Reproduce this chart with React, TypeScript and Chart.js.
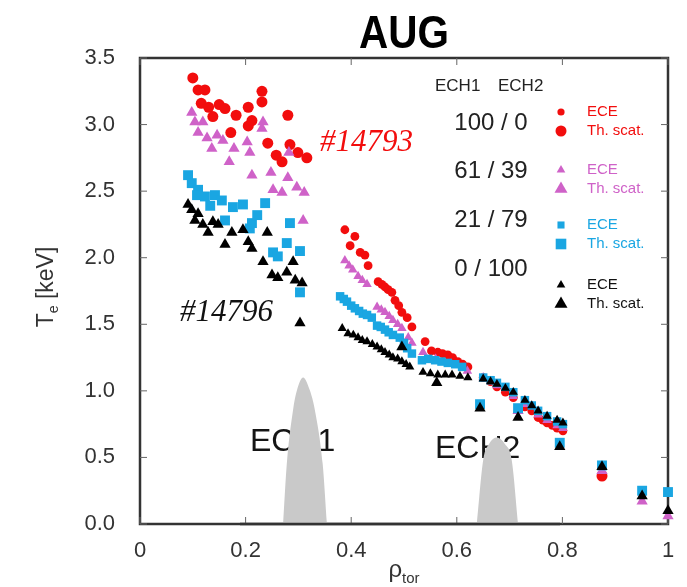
import React, { useEffect, useRef } from 'react';
import { Chart, registerables } from 'chart.js';

Chart.register(...registerables);

// ---- Electron temperature profiles, AUG (rho_tor vs Te in keV) ----
// 100/0 : ECH1/ECH2 power split (shot #14793)
const redThRho = [0.100, 0.110, 0.116, 0.123, 0.130, 0.138, 0.150, 0.161, 0.172, 0.182, 0.205, 0.205, 0.212, 0.231, 0.231, 0.242, 0.258, 0.269, 0.280, 0.284, 0.299, 0.316, 0.875];
const redThTe = [3.35, 3.26, 3.16, 3.26, 3.13, 3.06, 3.15, 3.12, 2.94, 3.07, 3.13, 2.99, 3.03, 3.25, 3.17, 2.86, 2.77, 2.72, 3.07, 2.85, 2.79, 2.75, 0.36];
const redEceRho = [0.388, 0.398, 0.407, 0.417, 0.426, 0.432, 0.451, 0.458, 0.464, 0.470, 0.477, 0.483, 0.490, 0.496, 0.506, 0.515, 0.540, 0.552, 0.564, 0.573, 0.583, 0.592, 0.602, 0.611, 0.621, 0.650, 0.664, 0.676, 0.692, 0.707, 0.729, 0.742, 0.754, 0.763, 0.771, 0.781, 0.790, 0.801];
const redEceTe = [2.21, 2.09, 2.16, 2.04, 2.02, 1.94, 1.82, 1.80, 1.78, 1.76, 1.74, 1.68, 1.64, 1.59, 1.55, 1.48, 1.37, 1.30, 1.29, 1.28, 1.27, 1.25, 1.22, 1.20, 1.18, 1.10, 1.07, 1.03, 0.99, 0.95, 0.88, 0.85, 0.80, 0.78, 0.76, 0.74, 0.72, 0.70];

// 61/39
const pinkThRho = [0.098, 0.104, 0.110, 0.119, 0.127, 0.136, 0.146, 0.157, 0.169, 0.178, 0.203, 0.208, 0.212, 0.231, 0.233, 0.248, 0.252, 0.269, 0.280, 0.282, 0.297, 0.309, 0.311, 0.716, 0.875, 0.951, 1.0];
const pinkThTe = [3.09, 3.02, 2.94, 3.02, 2.90, 2.82, 2.92, 2.88, 2.72, 2.82, 2.87, 2.79, 2.62, 2.97, 3.02, 2.64, 2.51, 2.49, 2.60, 2.79, 2.53, 2.28, 2.49, 0.85, 0.40, 0.17, 0.06];
const pinkEceRho = [0.388, 0.396, 0.403, 0.413, 0.421, 0.430, 0.449, 0.457, 0.464, 0.472, 0.479, 0.488, 0.496, 0.508, 0.515, 0.536, 0.560, 0.590, 0.620, 0.650, 0.676, 0.707, 0.729, 0.754, 0.771, 0.790, 0.801];
const pinkEceTe = [1.98, 1.94, 1.91, 1.86, 1.83, 1.80, 1.63, 1.61, 1.59, 1.56, 1.53, 1.50, 1.47, 1.40, 1.36, 1.29, 1.24, 1.20, 1.15, 1.10, 1.04, 0.96, 0.90, 0.82, 0.78, 0.74, 0.72];

// 21/79
const blueThRho = [0.091, 0.098, 0.110, 0.108, 0.123, 0.133, 0.142, 0.155, 0.161, 0.176, 0.195, 0.208, 0.212, 0.222, 0.237, 0.252, 0.261, 0.278, 0.284, 0.303, 0.303, 0.644, 0.716, 0.795, 0.875, 0.951, 1.0];
const blueThTe = [2.62, 2.56, 2.51, 2.47, 2.46, 2.39, 2.47, 2.43, 2.28, 2.38, 2.40, 2.22, 2.26, 2.32, 2.41, 2.04, 2.01, 2.11, 2.26, 2.05, 1.74, 0.90, 0.87, 0.61, 0.44, 0.25, 0.24];
const blueEceRho = [0.379, 0.386, 0.392, 0.400, 0.407, 0.415, 0.422, 0.430, 0.439, 0.449, 0.456, 0.464, 0.471, 0.479, 0.492, 0.500, 0.506, 0.515, 0.534, 0.546, 0.559, 0.571, 0.583, 0.597, 0.610, 0.650, 0.664, 0.676, 0.692, 0.707, 0.729, 0.742, 0.754, 0.771, 0.790, 0.801];
const blueEceTe = [1.71, 1.69, 1.67, 1.64, 1.62, 1.60, 1.58, 1.57, 1.55, 1.49, 1.48, 1.46, 1.44, 1.42, 1.40, 1.36, 1.32, 1.28, 1.23, 1.24, 1.23, 1.22, 1.21, 1.20, 1.18, 1.10, 1.08, 1.06, 1.03, 0.99, 0.93, 0.89, 0.85, 0.81, 0.77, 0.75];

// 0/100 (shot #14796)
const blackThRho = [0.091, 0.098, 0.104, 0.110, 0.119, 0.129, 0.138, 0.148, 0.161, 0.174, 0.195, 0.205, 0.212, 0.233, 0.241, 0.250, 0.261, 0.278, 0.290, 0.294, 0.303, 0.307, 0.496, 0.562, 0.644, 0.716, 0.795, 0.875, 0.951, 1.0];
const blackThTe = [2.40, 2.36, 2.28, 2.33, 2.25, 2.19, 2.27, 2.25, 2.10, 2.19, 2.21, 2.12, 2.07, 1.97, 2.19, 1.87, 1.85, 1.89, 1.97, 1.83, 1.51, 1.81, 1.33, 1.06, 0.87, 0.80, 0.58, 0.43, 0.21, 0.10];
const blackEceRho = [0.383, 0.394, 0.404, 0.413, 0.421, 0.430, 0.440, 0.449, 0.457, 0.464, 0.472, 0.479, 0.488, 0.496, 0.504, 0.511, 0.536, 0.550, 0.564, 0.578, 0.591, 0.606, 0.621, 0.650, 0.664, 0.676, 0.692, 0.707, 0.729, 0.742, 0.754, 0.771, 0.790, 0.801];
const blackEceTe = [1.47, 1.43, 1.42, 1.40, 1.38, 1.37, 1.35, 1.33, 1.31, 1.29, 1.27, 1.25, 1.24, 1.22, 1.20, 1.18, 1.14, 1.13, 1.12, 1.12, 1.12, 1.11, 1.10, 1.09, 1.07, 1.05, 1.02, 0.99, 0.93, 0.89, 0.85, 0.81, 0.78, 0.76];

// ECH deposition profiles (schematic, arbitrary height)
const ech1Rho = [0.271, 0.278, 0.290, 0.297, 0.309, 0.322, 0.331, 0.346, 0.354];
const ech1Level = [0, 0.45, 0.86, 1.0, 1.10, 1.0, 0.86, 0.45, 0];
const ech2Rho = [0.638, 0.650, 0.661, 0.676, 0.691, 0.704, 0.716];
const ech2Level = [0, 0.48, 0.60, 0.65, 0.60, 0.48, 0];

const rhoTicks = [0, 0.2, 0.4, 0.6, 0.8, 1];
const teTicks = [0, 0.5, 1.0, 1.5, 2.0, 2.5, 3.0, 3.5];

const powerSplits = ['100 / 0', '61 / 39', '21 / 79', '0 / 100'];

const RED = '#f20d0d';
const PINK = '#cf62c8';
const BLUE = '#1aa6e2';
const BLACK = '#000000';

const SANS = "'Liberation Sans', Arial, Helvetica, sans-serif";
const SERIF = "'Liberation Serif', 'Times New Roman', serif";

const pts = (xs: number[], ys: number[]) => xs.map((x, i) => ({ x, y: ys[i] }));

function marker(ctx: CanvasRenderingContext2D, style: string, x: number, y: number, r: number, color: string) {
  ctx.beginPath();
  ctx.fillStyle = color;
  if (style === 'circle') {
    ctx.arc(x, y, r, 0, Math.PI * 2);
  } else if (style === 'triangle') {
    ctx.moveTo(x, y - r);
    ctx.lineTo(x + r * 0.866, y + r / 2);
    ctx.lineTo(x - r * 0.866, y + r / 2);
    ctx.closePath();
  } else {
    const s = r * Math.SQRT1_2;
    ctx.rect(x - s, y - s, 2 * s, 2 * s);
  }
  ctx.fill();
}

const overlay = {
  id: 'overlay',
  beforeDatasetsDraw(chart: any) {
    const { ctx, chartArea: a, scales } = chart;
    ctx.save();
    // frame
    ctx.strokeStyle = '#333';
    ctx.lineWidth = 2.5;
    ctx.strokeRect(a.left, a.top, a.right - a.left, a.bottom - a.top);
    // inward ticks on all sides
    ctx.strokeStyle = '#666';
    ctx.lineWidth = 1;
    const tl = 7;
    rhoTicks.forEach((v) => {
      const px = scales.x.getPixelForValue(v);
      ctx.beginPath();
      ctx.moveTo(px, a.bottom); ctx.lineTo(px, a.bottom - tl);
      ctx.moveTo(px, a.top); ctx.lineTo(px, a.top + tl);
      ctx.stroke();
    });
    teTicks.forEach((v) => {
      const py = scales.y.getPixelForValue(v);
      ctx.beginPath();
      ctx.moveTo(a.left, py); ctx.lineTo(a.left + tl, py);
      ctx.moveTo(a.right, py); ctx.lineTo(a.right - tl, py);
      ctx.stroke();
    });
    // ECH labels sit underneath the deposition profiles
    ctx.fillStyle = '#151515';
    ctx.font = `32px ${SANS}`;
    ctx.textAlign = 'left';
    ctx.textBaseline = 'alphabetic';
    ctx.fillText('ECH1', 250, 451);
    ctx.fillText('ECH2', 435, 458);
    ctx.restore();
  },
  afterDraw(chart: any) {
    const { ctx, chartArea: a } = chart;
    ctx.save();
    // restore bottom axis line under the gray profiles
    ctx.strokeStyle = '#333';
    ctx.lineWidth = 2.5;
    ctx.beginPath();
    ctx.moveTo(a.left + 100, a.bottom);
    ctx.lineTo(a.left + 420, a.bottom);
    ctx.stroke();

    // title
    ctx.fillStyle = '#000';
    ctx.textAlign = 'center';
    ctx.textBaseline = 'alphabetic';
    ctx.save();
    ctx.translate((a.left + a.right) / 2, 48);
    ctx.scale(0.88, 1);
    ctx.font = `bold 46px ${SANS}`;
    ctx.fillText('AUG', 0, 0);
    ctx.restore();

    // y-axis title: T_e [keV]
    ctx.save();
    ctx.translate(53, 287);
    ctx.rotate(-Math.PI / 2);
    ctx.fillStyle = '#333';
    ctx.textAlign = 'left';
    ctx.font = `23px ${SANS}`;
    const wT = ctx.measureText('T').width;
    ctx.font = `14px ${SANS}`;
    const wE = ctx.measureText('e').width;
    ctx.font = `23px ${SANS}`;
    const wRest = ctx.measureText(' [keV]').width;
    const total = wT + wE + wRest;
    let cx = -total / 2;
    ctx.fillText('T', cx, 0);
    cx += wT;
    ctx.font = `14px ${SANS}`;
    ctx.fillText('e', cx, 5);
    cx += wE;
    ctx.font = `23px ${SANS}`;
    ctx.fillText(' [keV]', cx, 0);
    ctx.restore();

    // x-axis title: rho_tor
    ctx.save();
    ctx.fillStyle = '#333';
    ctx.textAlign = 'left';
    ctx.font = `24px ${SANS}`;
    const wRho = ctx.measureText('\u03c1').width;
    ctx.font = `15px ${SANS}`;
    const wTor = ctx.measureText('tor').width;
    const rx = (a.left + a.right) / 2 - (wRho + wTor) / 2;
    ctx.font = `24px ${SANS}`;
    ctx.fillText('\u03c1', rx, 577);
    ctx.font = `15px ${SANS}`;
    ctx.fillText('tor', rx + wRho, 583);
    ctx.restore();

    // shot numbers
    ctx.font = `italic 31px ${SERIF}`;
    ctx.textAlign = 'left';
    ctx.fillStyle = RED;
    ctx.fillText('#14793', 320, 151);
    ctx.fillStyle = '#111';
    ctx.fillText('#14796', 180, 321);

    // legend: power split and diagnostics
    ctx.fillStyle = '#222';
    ctx.font = `17px ${SANS}`;
    ctx.fillText('ECH1', 435, 91);
    ctx.fillText('ECH2', 498, 91);
    ctx.font = `24px ${SANS}`;
    ctx.textAlign = 'center';
    const splitY = [130, 178, 227, 276];
    powerSplits.forEach((s, i) => ctx.fillText(s, 491, splitY[i]));

    const rows = [
      { color: RED, style: 'circle', rs: 3.6, rb: 5.5, y: 112 },
      { color: PINK, style: 'triangle', rs: 5, rb: 7.5, y: 170 },
      { color: BLUE, style: 'rect', rs: 5, rb: 7.5, y: 225 },
      { color: BLACK, style: 'triangle', rs: 5, rb: 7.5, y: 285 },
    ];
    ctx.textAlign = 'left';
    ctx.textBaseline = 'middle';
    ctx.font = `15px ${SANS}`;
    rows.forEach((r) => {
      marker(ctx, r.style, 561, r.y, r.rs, r.color);
      marker(ctx, r.style, 561, r.y + 19, r.rb, r.color);
      ctx.fillStyle = r.color === BLACK ? '#111' : r.color;
      ctx.fillText('ECE', 587, r.y);
      ctx.fillText('Th. scat.', 587, r.y + 19);
    });
    ctx.restore();
  },
};

export default function App() {
  const canvasRef = useRef<HTMLCanvasElement | null>(null);

  useEffect(() => {
    if (!canvasRef.current) return;
    const scat = (data: any, color: string, style: string, r: number, order: number) => ({
      type: 'scatter' as const,
      data,
      backgroundColor: color,
      borderColor: color,
      borderWidth: 0,
      pointStyle: style,
      pointRadius: r,
      showLine: false,
      clip: false as any,
      order,
    });
    const profile = (xs: number[], ys: number[]) => ({
      type: 'line' as const,
      data: pts(xs, ys),
      backgroundColor: '#c9c9c9',
      borderColor: '#c9c9c9',
      borderWidth: 0,
      pointRadius: 0,
      fill: 'origin',
      cubicInterpolationMode: 'monotone' as const,
      order: 20,
    });

    const chart = new Chart(canvasRef.current, {
      type: 'scatter',
      data: {
        datasets: [
          profile(ech1Rho, ech1Level),
          profile(ech2Rho, ech2Level),
          scat(pts(redThRho, redThTe), RED, 'circle', 5.5, 8),
          scat(pts(redEceRho, redEceTe), RED, 'circle', 4.4, 7),
          scat(pts(pinkThRho, pinkThTe), PINK, 'triangle', 6.5, 6),
          scat(pts(pinkEceRho, pinkEceTe), PINK, 'triangle', 5.5, 5),
          scat(pts(blueThRho, blueThTe), BLUE, 'rect', 7, 4),
          scat(pts(blueEceRho, blueEceTe), BLUE, 'rect', 6, 3),
          scat(pts(blackThRho, blackThTe), BLACK, 'triangle', 6.5, 2),
          scat(pts(blackEceRho, blackEceTe), BLACK, 'triangle', 5.3, 1),
        ] as any,
      },
      options: {
        animation: false,
        responsive: true,
        maintainAspectRatio: false,
        layout: { padding: { left: 0, top: 58, right: 19, bottom: 0 } },
        plugins: {
          legend: { display: false },
          tooltip: { enabled: false },
          title: { display: false },
        },
        scales: {
          x: {
            type: 'linear',
            min: 0,
            max: 1,
            afterBuildTicks: (s: any) => { s.ticks = rhoTicks.map((v) => ({ value: v })); },
            afterFit: (s: any) => { s.height = 63; },
            grid: { display: false },
            border: { display: false },
            ticks: {
              color: '#333',
              padding: 6,
              font: { family: SANS, size: 22 },
              callback: (v: any) => String(v),
            },
          },
          y: {
            type: 'linear',
            min: 0,
            max: 3.5,
            afterBuildTicks: (s: any) => { s.ticks = teTicks.map((v) => ({ value: v })); },
            afterFit: (s: any) => { s.width = 140; },
            grid: { display: false },
            border: { display: false },
            ticks: {
              color: '#333',
              padding: 17,
              font: { family: SANS, size: 22 },
              callback: (v: any) => Number(v).toFixed(1),
            },
          },
        },
      },
      plugins: [overlay],
    });
    return () => chart.destroy();
  }, []);

  return (
    <div style={{ position: 'fixed', left: 0, top: 0, width: 687, height: 587, background: '#fff' }}>
      <canvas ref={canvasRef} />
    </div>
  );
}
